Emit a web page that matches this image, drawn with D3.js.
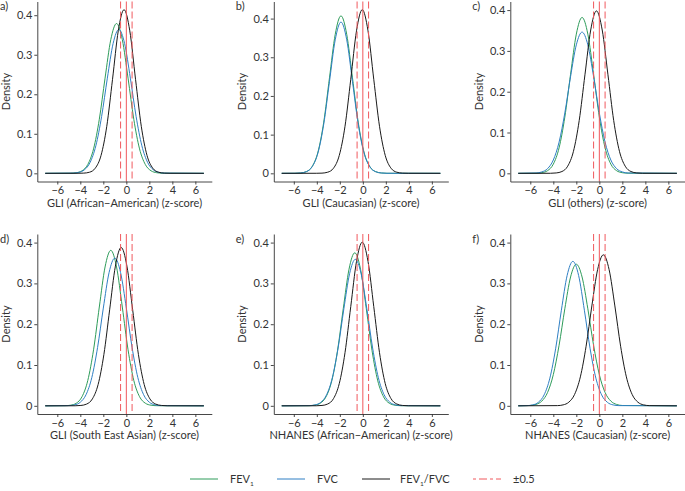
<!DOCTYPE html>
<html><head><meta charset="utf-8">
<script src="https://cdn.jsdelivr.net/npm/d3@7"></script>
<style>
html,body{margin:0;padding:0;background:#fff;}
svg{display:block;font-family:Lato,"Noto Sans",sans-serif;}
</style></head>
<body>
<svg id="chart" width="685" height="491"></svg>
<script>
// ---------- data ----------
const tags = ["a)", "b)", "c)", "d)", "e)", "f)"];
const xTitles = [
  "GLI (African\u2212American) (z-score)",
  "GLI (Caucasian) (z-score)",
  "GLI (others) (z-score)",
  "GLI (South East Asian) (z-score)",
  "NHANES (African\u2212American) (z-score)",
  "NHANES (Caucasian) (z-score)"
];
const yLimits = [0.414, 0.423, 0.401, 0.401, 0.401, 0.401];
const xTicks = [-6, -4, -2, 0, 2, 4, 6];
const yTicks = [0, 0.1, 0.2, 0.3, 0.4];
const zLimits = [-7.05, 6.74];
const cutoffs = [-0.5, 0.5];
const reference = [0];
const seriesNames = ["FEV1", "FVC", "FEV1/FVC"];

// density curves: [z-score, density]
const fev1Density = [
  [[-4.85,0.0003],[-4.35,0.0015],[-3.85,0.0064],[-3.35,0.0223],[-2.85,0.0618],[-2.35,0.1366],[-1.85,0.2408],[-1.35,0.3384],[-0.85,0.379],[-0.35,0.3384],[0.15,0.2408],[0.65,0.1366],[1.15,0.0618],[1.65,0.0223],[2.15,0.0064],[2.65,0.0015],[3.15,0.0003]],
  [[-5.9,0.0001],[-5.4,0.0009],[-4.9,0.0045],[-4.4,0.0179],[-3.9,0.0551],[-3.4,0.1322],[-2.9,0.2468],[-2.4,0.3592],[-1.9,0.407],[-1.4,0.3592],[-0.9,0.2468],[-0.4,0.1322],[0.1,0.0551],[0.6,0.0179],[1.1,0.0045],[1.6,0.0009],[2.1,0.0001]],
  [[-5.5,0.0003],[-5,0.0015],[-4.5,0.0065],[-4,0.0225],[-3.5,0.0623],[-3,0.1377],[-2.5,0.2427],[-2,0.3411],[-1.5,0.382],[-1,0.3411],[-0.5,0.2427],[0,0.1377],[0.5,0.0623],[1,0.0225],[1.5,0.0065],[2,0.0015],[2.5,0.0003]],
  [[-5.35,0.0003],[-4.85,0.0015],[-4.35,0.0064],[-3.85,0.0224],[-3.35,0.0621],[-2.85,0.1373],[-2.35,0.2421],[-1.85,0.3402],[-1.35,0.381],[-0.85,0.3402],[-0.35,0.2421],[0.15,0.1373],[0.65,0.0621],[1.15,0.0224],[1.65,0.0064],[2.15,0.0015],[2.65,0.0003]],
  [[-4.7,0.0003],[-4.2,0.0015],[-3.7,0.0063],[-3.2,0.0221],[-2.7,0.0611],[-2.2,0.1352],[-1.7,0.2383],[-1.2,0.3348],[-0.7,0.375],[-0.2,0.3348],[0.3,0.2383],[0.8,0.1352],[1.3,0.0611],[1.8,0.0221],[2.3,0.0063],[2.8,0.0015],[3.3,0.0003]],
  [[-6,0.0008],[-5.5,0.0034],[-5,0.0116],[-4.5,0.0327],[-4,0.0765],[-3.5,0.1482],[-3,0.2378],[-2.5,0.3157],[-2,0.347],[-1.5,0.3157],[-1,0.2378],[-0.5,0.1482],[0,0.0765],[0.5,0.0327],[1,0.0116],[1.5,0.0034],[2,0.0008]]
];
const fvcDensity = [
  [[-4.65,0.0005],[-4.15,0.0023],[-3.65,0.0088],[-3.15,0.0275],[-2.65,0.0697],[-2.15,0.1436],[-1.65,0.2408],[-1.15,0.3283],[-0.65,0.364],[-0.15,0.3283],[0.35,0.2408],[0.85,0.1436],[1.35,0.0697],[1.85,0.0275],[2.35,0.0088],[2.85,0.0023],[3.35,0.0005]],
  [[-5.9,0.0001],[-5.4,0.0009],[-4.9,0.0043],[-4.4,0.0172],[-3.9,0.0529],[-3.4,0.127],[-2.9,0.2371],[-2.4,0.3451],[-1.9,0.391],[-1.4,0.3451],[-0.9,0.2371],[-0.4,0.127],[0.1,0.0529],[0.6,0.0172],[1.1,0.0043],[1.6,0.0009],[2.1,0.0001]],
  [[-5.5,0.0008],[-5,0.0034],[-4.5,0.0115],[-4,0.0326],[-3.5,0.0763],[-3,0.1478],[-2.5,0.2371],[-2,0.3148],[-1.5,0.346],[-1,0.3148],[-0.5,0.2371],[0,0.1478],[0.5,0.0763],[1,0.0326],[1.5,0.0115],[2,0.0034],[2.5,0.0008]],
  [[-5,0.0005],[-4.5,0.0023],[-4,0.0088],[-3.5,0.0274],[-3,0.0693],[-2.5,0.1429],[-2,0.2395],[-1.5,0.3265],[-1,0.362],[-0.5,0.3265],[0,0.2395],[0.5,0.1429],[1,0.0693],[1.5,0.0274],[2,0.0088],[2.5,0.0023],[3,0.0005]],
  [[-4.65,0.0005],[-4.15,0.0023],[-3.65,0.0087],[-3.15,0.0271],[-2.65,0.0688],[-2.15,0.1417],[-1.65,0.2375],[-1.15,0.3238],[-0.65,0.359],[-0.15,0.3238],[0.35,0.2375],[0.85,0.1417],[1.35,0.0688],[1.85,0.0271],[2.35,0.0087],[2.85,0.0023],[3.35,0.0005]],
  [[-6.3,0.0005],[-5.8,0.0022],[-5.3,0.0086],[-4.8,0.0268],[-4.3,0.0678],[-3.8,0.1397],[-3.3,0.2342],[-2.8,0.3193],[-2.3,0.354],[-1.8,0.3193],[-1.3,0.2342],[-0.8,0.1397],[-0.3,0.0678],[0.2,0.0268],[0.7,0.0086],[1.2,0.0022],[1.7,0.0005]]
];
const ratioDensity = [
  [[-4.2,0.0001],[-3.7,0.0005],[-3.2,0.0028],[-2.7,0.013],[-2.2,0.0451],[-1.7,0.119],[-1.2,0.2379],[-0.7,0.3605],[-0.2,0.414],[0.3,0.3605],[0.8,0.2379],[1.3,0.119],[1.8,0.0451],[2.3,0.013],[2.8,0.0028],[3.3,0.0005],[3.8,0.0001]],
  [[-4.05,0.0001],[-3.55,0.0005],[-3.05,0.0029],[-2.55,0.0132],[-2.05,0.0461],[-1.55,0.1216],[-1.05,0.2431],[-0.55,0.3683],[-0.05,0.423],[0.45,0.3683],[0.95,0.2431],[1.45,0.1216],[1.95,0.0461],[2.45,0.0132],[2.95,0.0029],[3.45,0.0005],[3.95,0.0001]],
  [[-4.25,0.0001],[-3.75,0.0009],[-3.25,0.0044],[-2.75,0.0175],[-2.25,0.0539],[-1.75,0.1292],[-1.25,0.2414],[-0.75,0.3512],[-0.25,0.398],[0.25,0.3512],[0.75,0.2414],[1.25,0.1292],[1.75,0.0539],[2.25,0.0175],[2.75,0.0044],[3.25,0.0009],[3.75,0.0001]],
  [[-4.45,0.0001],[-3.95,0.0009],[-3.45,0.0043],[-2.95,0.017],[-2.45,0.0525],[-1.95,0.126],[-1.45,0.2353],[-0.95,0.3424],[-0.45,0.388],[0.05,0.3424],[0.55,0.2353],[1.05,0.126],[1.55,0.0525],[2.05,0.017],[2.55,0.0043],[3.05,0.0009],[3.55,0.0001]],
  [[-4.05,0.0001],[-3.55,0.0009],[-3.05,0.0045],[-2.55,0.0176],[-2.05,0.0543],[-1.55,0.1302],[-1.05,0.2432],[-0.55,0.3539],[-0.05,0.401],[0.45,0.3539],[0.95,0.2432],[1.45,0.1302],[1.95,0.0543],[2.45,0.0176],[2.95,0.0045],[3.45,0.0009],[3.95,0.0001]],
  [[-3.65,0.0005],[-3.15,0.0023],[-2.65,0.009],[-2.15,0.028],[-1.65,0.0709],[-1.15,0.146],[-0.65,0.2448],[-0.15,0.3337],[0.35,0.37],[0.85,0.3337],[1.35,0.2448],[1.85,0.146],[2.35,0.0709],[2.85,0.028],[3.35,0.009],[3.85,0.0023],[4.35,0.0005]]
];

// ---------- layout & style ----------
const colors = { fev1: "#2e9c5a", fvc: "#2f7fc4", ratio: "#1a1a1a", red: "#f0585d" };
const panelLefts = [37.3, 273.8, 510.3];
const panelTops = [1.5, 234];
const panelW = 174.5, panelH = 180;
const axisColor = "#333", textColor = "#333";
const fs = 11;

const svg = d3.select("#chart");

const span = zLimits[1] - zLimits[0];
const xDomain = [zLimits[0] - 0.05 * span, zLimits[1] + 0.05 * span];

tags.forEach((tag, i) => {
  const col = i % 3, row = Math.floor(i / 3);
  const left = panelLefts[col], top = panelTops[row];
  const g = svg.append("g").attr("transform", `translate(${left},${top})`);
  const x = d3.scaleLinear().domain(xDomain).range([0, panelW]);
  const M = yLimits[i];
  const y = d3.scaleLinear().domain([-0.05 * M, 1.05 * M]).range([panelH, 0]);

  const line = d3.line().x(d => x(d[0])).y(d => y(d[1])).curve(d3.curveMonotoneX);
  const withEnds = pts => [[zLimits[0], 0], ...pts, [zLimits[1], 0]];

  [[fev1Density, colors.fev1], [fvcDensity, colors.fvc], [ratioDensity, colors.ratio]].forEach(([arr, c]) => {
    g.append("path").attr("d", line(withEnds(arr[i])))
      .attr("fill", "none").attr("stroke", c).attr("stroke-width", 1);
  });

  // reference lines
  cutoffs.forEach(v => {
    g.append("line").attr("x1", x(v)).attr("x2", x(v)).attr("y1", 0).attr("y2", panelH)
      .attr("stroke", colors.red).attr("stroke-width", 1).attr("stroke-dasharray", "7,3");
  });
  reference.forEach(v => {
    g.append("line").attr("x1", x(v)).attr("x2", x(v)).attr("y1", 0).attr("y2", panelH)
      .attr("stroke", colors.red).attr("stroke-width", 1);
  });

  // axes
  const xAxis = d3.axisBottom(x).tickValues(xTicks).tickSize(3).tickPadding(2).tickSizeOuter(0);
  const gx = g.append("g").attr("transform", `translate(0,${panelH})`).call(xAxis);
  const yAxis = d3.axisLeft(y).tickValues(yTicks).tickSize(3).tickPadding(2).tickSizeOuter(0)
    .tickFormat(d => d === 0 ? "0" : d3.format(".1f")(d));
  const gy = g.append("g").call(yAxis);
  [gx, gy].forEach(a => {
    a.select(".domain").attr("stroke", axisColor).attr("stroke-width", 0.9);
    a.selectAll(".tick line").attr("stroke", axisColor).attr("stroke-width", 0.9);
    a.selectAll(".tick text").attr("fill", textColor).style("font-size", fs + "px")
      .style("font-family", "Lato,'Noto Sans',sans-serif");
  });

  // titles
  g.append("text").attr("x", panelW / 2).attr("y", panelH + 25).attr("text-anchor", "middle")
    .attr("fill", textColor).style("font-size", fs + "px").text(xTitles[i]);
  g.append("text").attr("transform", `translate(${-31.5},${panelH / 2}) rotate(-90)`)
    .attr("text-anchor", "middle").attr("dy", "0.35em")
    .attr("fill", textColor).style("font-size", fs + "px").text("Density");
  svg.append("text").attr("x", Math.max(0, left - 38)).attr("y", top + 8.5)
    .attr("fill", textColor).style("font-size", fs + "px").text(tag);
});

// legend
const legendY = 479;
const legendItems = [
  { key: "fev1", x: 190, tx: 230, dash: null, main: "FEV", sub: "1", rest: "" },
  { key: "fvc", x: 277, tx: 317, dash: null, main: "FVC", sub: "", rest: "" },
  { key: "ratio", x: 362, tx: 400, dash: null, main: "FEV", sub: "1", rest: "/FVC" },
  { key: "red", x: 473, tx: 513, dash: "3,3,8,3", main: "\u00b10.5", sub: "", rest: "" }
];
legendItems.forEach(it => {
  const l = svg.append("line").attr("x1", it.x).attr("x2", it.x + 28).attr("y1", legendY).attr("y2", legendY)
    .attr("stroke", colors[it.key]).attr("stroke-width", 1);
  if (it.dash) l.attr("stroke-dasharray", it.dash);
  const t = svg.append("text").attr("x", it.tx).attr("y", legendY).attr("dy", "0.35em")
    .attr("fill", textColor).style("font-size", fs + "px");
  t.append("tspan").text(it.main);
  if (it.sub) t.append("tspan").attr("dy", 3).style("font-size", "6.5px").text(it.sub);
  if (it.rest) t.append("tspan").attr("dy", -3).text(it.rest);
});
</script>
</body></html>
